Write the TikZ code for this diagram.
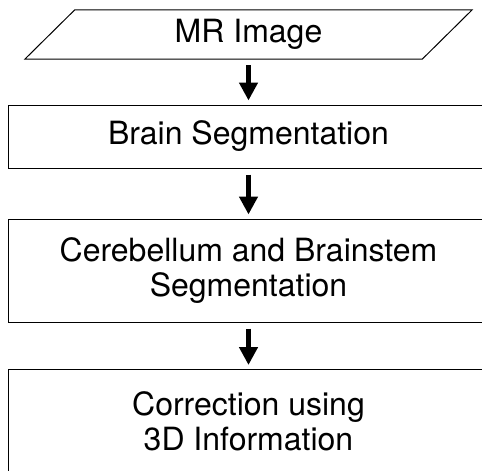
\documentclass[tikz,border=0pt]{standalone}
\usepackage{fontspec}
\setmainfont{TeX Gyre Heros}
\usetikzlibrary{arrows.meta}
\begin{document}
\begin{tikzpicture}[x=1pt,y=-1pt,
  lbl/.style={font=\fontsize{32}{35}\selectfont, align=center, inner sep=0pt},
  stepbox/.style={lbl, draw, line width=1pt, minimum width=481pt},
  flow/.style={line width=5pt, -{Triangle[width=18pt,length=18pt]}, shorten <=6pt, shorten >=4pt}]
\useasboundingbox (0,0) rectangle (482,471);
\clip (0,0) rectangle (482,471);
\node[lbl, minimum width=397pt, minimum height=49pt] (mr) at (248.5,34.5) {MR Image};
\draw[line width=1pt] ([xshift=25pt]mr.north west) -- ([xshift=25pt]mr.north east)
  -- ([xshift=-25pt]mr.south east) -- ([xshift=-25pt]mr.south west) -- cycle;
\node[stepbox, minimum height=63pt] (brain) at (248.5,136.5) {Brain Segmentation};
\node[stepbox, minimum height=103pt] (cereb) at (248.5,270.5) {Cerebellum and Brainstem\\Segmentation};
\node[stepbox, minimum height=103pt] (corr) at (248.5,421) {Correction using\\3D Information};
\draw[flow] (mr.south) -- (brain.north);
\draw[flow] (brain.south) -- (cereb.north);
\draw[flow] (cereb.south) -- (corr.north);
\end{tikzpicture}
\end{document}
